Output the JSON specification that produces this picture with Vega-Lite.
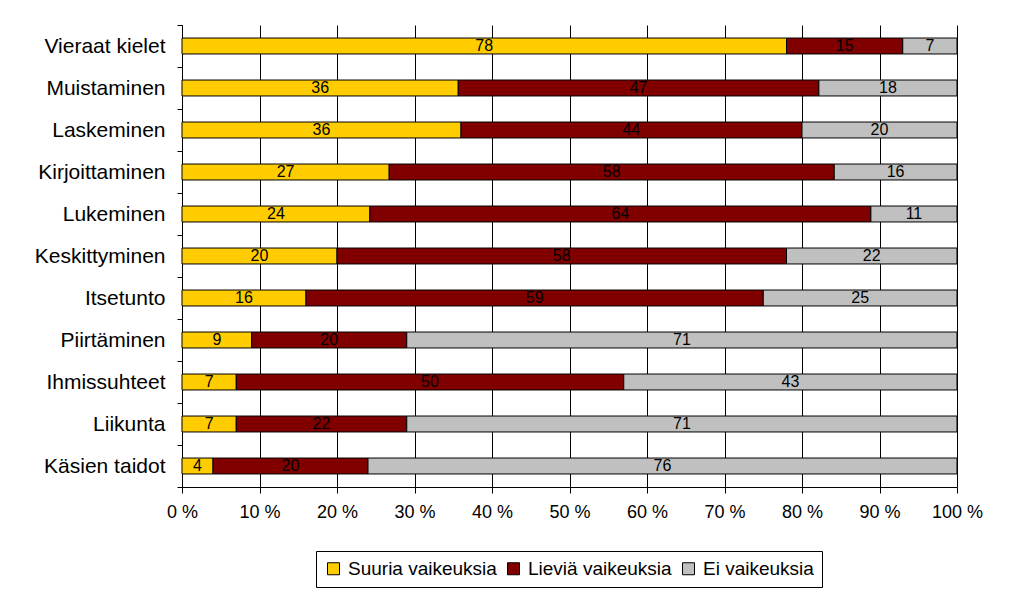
{
  "$schema": "https://vega.github.io/schema/vega-lite/v6.json",
  "width": 775,
  "height": 462,
  "autosize": "none",
  "padding": {"left": 182, "top": 25, "right": 67, "bottom": 115},
  "background": "white",
  "config": {"view": {"stroke": null}, "font": "Liberation Sans"},
  "data": {
    "values": [
      {"item": "Vieraat kielet", "level": "Suuria vaikeuksia", "value": 78},
      {"item": "Vieraat kielet", "level": "Lieviä vaikeuksia", "value": 15},
      {"item": "Vieraat kielet", "level": "Ei vaikeuksia", "value": 7},
      {"item": "Muistaminen", "level": "Suuria vaikeuksia", "value": 36},
      {"item": "Muistaminen", "level": "Lieviä vaikeuksia", "value": 47},
      {"item": "Muistaminen", "level": "Ei vaikeuksia", "value": 18},
      {"item": "Laskeminen", "level": "Suuria vaikeuksia", "value": 36},
      {"item": "Laskeminen", "level": "Lieviä vaikeuksia", "value": 44},
      {"item": "Laskeminen", "level": "Ei vaikeuksia", "value": 20},
      {"item": "Kirjoittaminen", "level": "Suuria vaikeuksia", "value": 27},
      {"item": "Kirjoittaminen", "level": "Lieviä vaikeuksia", "value": 58},
      {"item": "Kirjoittaminen", "level": "Ei vaikeuksia", "value": 16},
      {"item": "Lukeminen", "level": "Suuria vaikeuksia", "value": 24},
      {"item": "Lukeminen", "level": "Lieviä vaikeuksia", "value": 64},
      {"item": "Lukeminen", "level": "Ei vaikeuksia", "value": 11},
      {"item": "Keskittyminen", "level": "Suuria vaikeuksia", "value": 20},
      {"item": "Keskittyminen", "level": "Lieviä vaikeuksia", "value": 58},
      {"item": "Keskittyminen", "level": "Ei vaikeuksia", "value": 22},
      {"item": "Itsetunto", "level": "Suuria vaikeuksia", "value": 16},
      {"item": "Itsetunto", "level": "Lieviä vaikeuksia", "value": 59},
      {"item": "Itsetunto", "level": "Ei vaikeuksia", "value": 25},
      {"item": "Piirtäminen", "level": "Suuria vaikeuksia", "value": 9},
      {"item": "Piirtäminen", "level": "Lieviä vaikeuksia", "value": 20},
      {"item": "Piirtäminen", "level": "Ei vaikeuksia", "value": 71},
      {"item": "Ihmissuhteet", "level": "Suuria vaikeuksia", "value": 7},
      {"item": "Ihmissuhteet", "level": "Lieviä vaikeuksia", "value": 50},
      {"item": "Ihmissuhteet", "level": "Ei vaikeuksia", "value": 43},
      {"item": "Liikunta", "level": "Suuria vaikeuksia", "value": 7},
      {"item": "Liikunta", "level": "Lieviä vaikeuksia", "value": 22},
      {"item": "Liikunta", "level": "Ei vaikeuksia", "value": 71},
      {"item": "Käsien taidot", "level": "Suuria vaikeuksia", "value": 4},
      {"item": "Käsien taidot", "level": "Lieviä vaikeuksia", "value": 20},
      {"item": "Käsien taidot", "level": "Ei vaikeuksia", "value": 76}
    ]
  },
  "transform": [
    {"stack": "value", "groupby": ["item"], "sort": [{"field": "level", "order": "descending"}], "as": ["v0", "v1"], "offset": "normalize"},
    {"calculate": "(datum.v0 + datum.v1) / 2", "as": "mid"}
  ],
  "encoding": {
    "y": {
      "field": "item",
      "type": "nominal",
      "sort": ["Vieraat kielet", "Muistaminen", "Laskeminen", "Kirjoittaminen", "Lukeminen", "Keskittyminen", "Itsetunto", "Piirtäminen", "Ihmissuhteet", "Liikunta", "Käsien taidot"],
      "scale": {"paddingInner": 0, "paddingOuter": 0},
      "axis": {
        "title": null,
        "tickBand": "extent",
        "grid": false,
        "labelFontSize": 21,
        "labelColor": "black",
        "domainColor": "black",
        "tickColor": "black",
        "tickSize": 5,
        "labelPadding": 12
      }
    }
  },
  "layer": [
    {
      "mark": {"type": "bar", "height": {"band": 0.38}, "stroke": "black", "strokeWidth": 1},
      "encoding": {
        "x": {
          "field": "v0",
          "type": "quantitative",
          "scale": {"domain": [0, 1], "nice": false},
          "axis": {
            "title": null,
            "values": [0, 0.1, 0.2, 0.3, 0.4, 0.5, 0.6, 0.7, 0.8, 0.9, 1],
            "labelExpr": "round(datum.value * 100) + ' %'",
            "grid": true,
            "gridColor": "black",
            "gridOpacity": 1,
            "domainColor": "black",
            "tickColor": "black",
            "tickSize": 6,
            "labelFontSize": 18,
            "labelColor": "black",
            "labelPadding": 10,
            "labelFlush": false
          }
        },
        "x2": {"field": "v1"},
        "color": {
          "field": "level",
          "type": "nominal",
          "scale": {
            "domain": ["Suuria vaikeuksia", "Lieviä vaikeuksia", "Ei vaikeuksia"],
            "range": ["#FFCC00", "#800000", "#C0C0C0"]
          },
          "legend": {
            "title": null,
            "orient": "none",
            "legendX": 134,
            "legendY": 526,
            "direction": "horizontal",
            "columns": 3,
            "symbolType": "square",
            "symbolSize": 144,
            "symbolStrokeColor": "black",
            "symbolStrokeWidth": 1,
            "labelFontSize": 19,
            "labelColor": "black",
            "labelOffset": 5,
            "columnPadding": 7,
            "strokeColor": "black",
            "padding": 8
          }
        }
      }
    },
    {
      "mark": {"type": "text", "fontSize": 16, "color": "black"},
      "encoding": {
        "x": {"field": "mid", "type": "quantitative"},
        "text": {"field": "value", "type": "quantitative"}
      }
    }
  ]
}
